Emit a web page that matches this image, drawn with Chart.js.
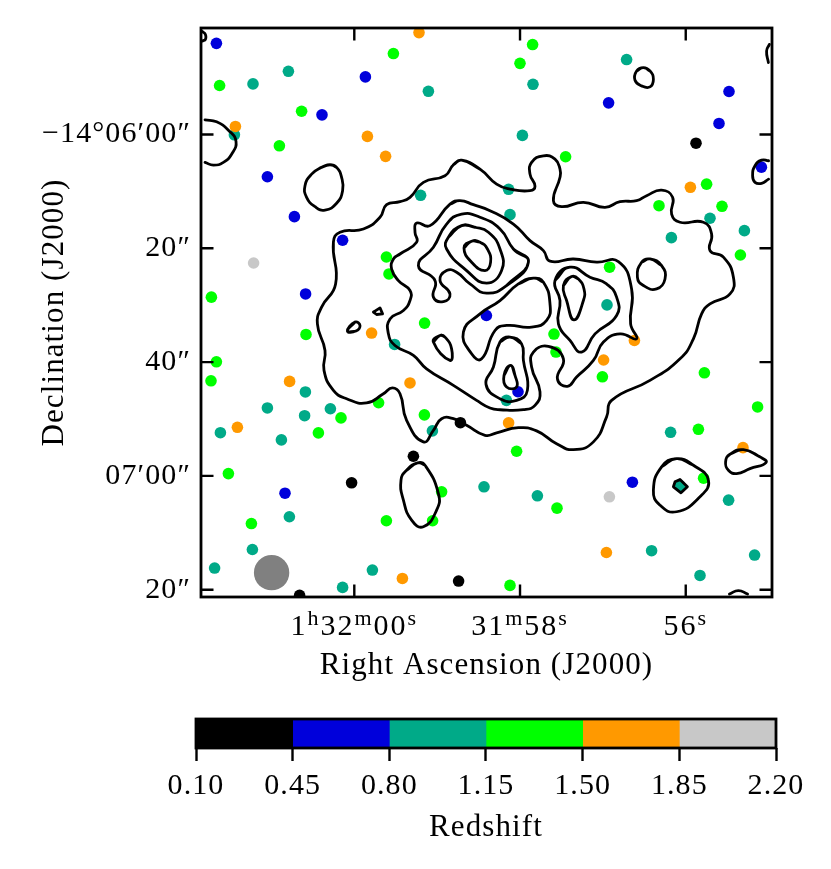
<!DOCTYPE html>
<html><head><meta charset="utf-8">
<style>
html,body{margin:0;padding:0;background:#fff;width:831px;height:869px;overflow:hidden}
canvas{position:absolute;left:0;display:block}
#map{top:0}#bar{top:700px}
</style>
<script src="https://cdn.jsdelivr.net/npm/chart.js@4"></script>
</head><body>
<canvas id="map" width="831" height="700"></canvas>
<canvas id="bar" width="831" height="169"></canvas>
<script>
// Everything below is in map pixels of the image (0.35 arcsec per map pixel, y grows to the south).
const zBlack=[[247.5,57.7],[129.7,197.7],[106.2,214.5],[75.3,227.8],[128.8,277],[49.3,284.2]];
const zBlue=[[7.7,7.7],[82.2,24.5],[60.5,43.5],[33.2,74.5],[46.7,94.5],[70.8,106.3],[52.3,133.2],[142.7,144],[203.8,37.5],[264,31.8],[259,47.8],[280.2,69.7],[158.5,182.2],[215.7,227.5],[42,233]];
const zTeal=[[43.7,21.7],[26,28],[113.7,31.7],[16.7,53.5],[109.8,83.8],[166,28.2],[212.8,15.8],[160.7,53.8],[153.8,80.8],[154.5,93.5],[254.5,95.3],[235.2,105],[271.7,101.5],[203,138.7],[96.8,158.5],[52.2,182.3],[33.2,190.3],[64.7,190.7],[51.8,194.2],[115.7,201.8],[9.7,202.7],[40.2,206.3],[141.5,229.8],[44.2,244.8],[25.7,261.2],[6.8,270.5],[85.7,271.5],[70.8,280.2],[152.7,186.5],[234.8,202.5],[239.5,229.3],[168.2,234.3],[263.8,236.5],[225.3,261.8],[276.8,264],[249.5,274.2]];
const zGreen=[[96.2,12.8],[9.3,28.8],[50.3,41.7],[39.2,59],[92.7,114.7],[94,123.2],[5.2,134.8],[111.8,147.8],[165.8,8.3],[159.5,17.7],[182.3,64.5],[252.8,78.2],[229,89],[260.5,89.3],[269.7,113.7],[204.3,119.8],[52.5,153.5],[7.7,167.2],[5,176.7],[88.8,187.7],[70,195.3],[111.7,193.8],[58.7,202.8],[13.7,223.2],[120.3,232.3],[92.7,246.8],[115.8,246.8],[25.2,248.2],[176.5,153.3],[177.5,162.3],[200.7,174.7],[251.7,172.7],[278.3,189.8],[248.7,201],[157.8,212],[251.3,225.5],[178,240.5],[154.5,279.2]];
const zOrange=[[109,2.3],[17.2,49.3],[83.2,54.3],[92.3,64.3],[244.7,79.8],[85.3,152.8],[44.3,177],[104.5,177.8],[18.2,200],[100.7,275.7],[216.7,156.5],[201.3,166.3],[153.8,197.8],[271,210.2],[202.7,262.7]];
const zGray=[[26.3,117.7],[204.2,234.8]];
const beam=[[35.3,272.8]];

const cOuter=[[130.3,66.2],[126.2,68.5],[122,74],[111.2,77.3],[104.5,84.8],[99.5,87],[92.8,88.5],[89.5,94.8],[81.2,100.7],[69.5,102.3],[66.2,107.3],[67.3,128.2],[60.3,139.8],[58.2,148.2],[62,161.5],[61.5,171.5],[66.2,181.5],[72.8,185.7],[82.8,187.8],[91.2,183.2],[95.7,180.3],[99.5,183.2],[102.8,196.5],[111.2,207.3],[116.2,201.5],[120.3,195.7],[126.2,195.7],[132.8,199],[142,204],[147.8,202.8],[158.7,200.2],[167.8,201.8],[177.8,208.2],[186.2,211.2],[196.2,207.3],[202.8,194.8],[205.3,186.5],[224.5,176.5],[239.5,165.7],[246.2,155.7],[250.3,143.2],[254.5,138.2],[264.5,133.2],[266.2,124.8],[261.2,114.8],[254.5,111.5],[255.3,103.2],[251.2,97.3],[239.5,97.3],[235.3,93.2],[235.8,84.8],[230.3,81.2],[222.8,84],[217.8,86.5],[209.5,87],[202,89.8],[191.2,87.3],[180.3,89.5],[176.2,86.5],[179.5,74.8],[179.5,70.7],[177,65.7],[171.2,64],[165.3,67.3],[164.5,73.2],[167,79.3],[164.5,81.5],[154.5,80.7],[147.8,78.2],[139.5,70.7],[130.3,66.2]];
const cSecond=[[129.5,86.5],[124.5,88.2],[114.5,99],[107.8,97.7],[107,102.3],[107.8,107.3],[99.5,113.2],[96.2,115.7],[95.3,120.7],[98.7,126.5],[104.5,131.5],[104.5,136.5],[101.2,141.5],[94.5,145.7],[93.7,153.2],[97,159],[106.2,164],[112.8,170.7],[126.2,179],[137.8,186.5],[144.5,190.3],[149.5,191.2],[161.2,191.2],[167,189],[169.5,182.3],[165.3,169.8],[166.2,162.3],[173.7,159.5],[181.2,165.7],[178.2,175.7],[183.2,179.5],[187.8,174.8],[196.2,166.5],[201.2,157.3],[209.5,153.2],[217.8,155.7],[214.8,148.2],[215.3,130.7],[208.7,117],[197.8,117.3],[186.2,115.7],[174.5,116.8],[171.2,111.5],[164.5,106.5],[156.2,98.2],[144.5,91.5],[136.2,88.5],[129.5,86.5]];
const cLobeA=[[163.7,117.3],[156.2,110.7],[149.5,100.7],[139.5,94.8],[130.3,93.2],[122.8,98.2],[116.2,109.8],[108.7,119],[117,126.5],[116.2,134.8],[121.2,137],[124.5,133.2],[119.5,126.5],[122.8,121.5],[127.8,122.3],[134.5,128.2],[142.8,132.8],[152.8,129],[163.7,117.3]];
const cLobeB=[[130.3,99],[123.7,104.8],[122.8,110.7],[132.8,121.5],[142.8,127.8],[150.3,121.5],[149.5,110.7],[143.7,102.3],[137,99.8],[130.3,99]];
const cLobeC=[[135.3,106.8],[131.5,110.2],[135.3,117.3],[142,121.5],[144.8,117.3],[143.2,110.7],[139.5,107.3],[135.3,106.8]];
const cCentre=[[166.2,125.3],[171.2,127.3],[174.5,138.2],[172.8,146.5],[165.3,149.8],[152.8,149],[147,151.5],[140.3,165.7],[135.3,163.2],[131.2,152.3],[139.5,143.2],[149.5,136.5],[158.7,128.2],[166.2,125.3]];
const cRightA=[[184.5,119.8],[177,126.5],[179.5,136.5],[178.7,148.2],[184.5,156.5],[190.3,162.3],[197,153.2],[207.8,144],[207.8,134.8],[202.8,128.2],[194.5,124.8],[184.5,119.8]];
const cRightB=[[185.3,124.5],[181.2,129],[182.8,136.5],[186.5,146.2],[191.2,136.5],[191.5,130.7],[188.7,125.7],[185.3,124.5]];
const cLowerA=[[154.5,154.8],[160.3,158.2],[161.2,166.5],[163.2,181.5],[157.8,186.5],[149.5,185.7],[142.5,178.5],[146.2,169.8],[149.5,157.3],[154.5,154.8]];
const cLowerB=[[154.8,169],[151.5,174],[152.8,179.8],[157.8,179.8],[157,174],[154.8,169]];
const cIslandA=[[119.5,154],[116.2,157.3],[124.5,166.5],[125.3,160.7],[122,154.8],[119.5,154]];
const cIslandB=[[86.2,142.3],[89.5,140.2],[90.8,143.2],[87.8,143.5],[86.2,142.3]];
const cIslandC=[[73.2,151.8],[77,147.3],[79.5,149],[77.5,151.8],[73.2,151.8]];
const cEastOval=[[224.5,115.7],[230.3,119],[232,125.7],[227.8,130.7],[221.2,129],[218.2,124.8],[220.3,117.3],[224.5,115.7]];
const cWestRing=[[64.5,68.5],[67.8,69.8],[70.3,74.8],[70.8,81.5],[67.8,87.8],[62,91.2],[57,89.5],[52.8,84.8],[52,79],[55.3,73.2],[60.3,69.8],[64.5,68.5]];
const cWestArc=[[2,46],[7.8,47],[13.7,51.2],[17.5,56.8],[15.3,63.2],[11.2,67.3],[6.2,68.7],[2,67.3]];
const cCornerNW=[[0.7,1.8],[2.2,3.2],[2.2,5.7],[0.8,6.5]];
const cRingNE=[[221.2,19.8],[224.5,21.5],[226.2,25.7],[224.5,29.5],[220.3,29],[217,26.2],[217.8,21.5],[221.2,19.8]];
const cArcNE=[[284.2,8.2],[282.8,11.5],[283.7,17.3]];
const cArcE=[[283.8,66.5],[280.3,66.2],[277,69],[275.8,74],[277,77.3],[280.3,77.8],[283.8,75.7]];
const cSouthOval=[[108.3,217.8],[112,219],[118.7,233.2],[117.8,241.5],[111.2,249.8],[105.3,246.5],[101.2,236.5],[100,226.5],[102.8,221.5],[108.3,217.8]];
const cSERingA=[[237.8,215.7],[246.2,219],[253.7,226.5],[249.5,234.8],[237.8,242.3],[229.5,239],[226.2,231.5],[230.3,219.8],[237.8,215.7]];
const cSERingB=[[239.5,226.2],[243.2,229.8],[240,232.8],[236.2,229.8],[237,227.3],[239.5,226.2]];
const cSEDrop=[[271.2,211.2],[279.5,214.8],[282.5,217.7],[274.5,220.7],[267.8,223.2],[263.7,221.5],[262.3,217.3],[264.5,213.5],[271.2,211.2]];
const cSouthArc=[[264.2,283.5],[268.7,281.8],[273.3,283.5]];

const raTicks=[120,118,116];                 // seconds past 1h31m
const raLabels=[[["1",0],["h",1],["32",0],["m",1],["00",0],["s",1]],[["31",0],["m",1],["58",0],["s",1]],[["56",0],["s",1]]];
const decTicks=[0,20,40,60,80];              // arcsec south of -14d06m00s
const decLabels=["\u221214\u00b006\u203200\u2033","20\u2033","40\u2033","07\u203200\u2033","20\u2033"];
const binEdges=[0.10,0.45,0.80,1.15,1.50,1.85,2.20];
const binColors=["#000000","#0000DB","#00AA88","#00FF00","#FF9900","#C8C8C8"];

const raToMap=ra=>76.65+(120-ra)*41.43;
const decToMap=d=>53.35+d*2.85;
const SERIF='"Liberation Serif",serif';

const xy=d=>d.map(p=>({x:p[0],y:p[1]}));
const isClosed=c=>c[0][0]===c[c.length-1][0]&&c[0][1]===c[c.length-1][1];
const wrap=c=>isClosed(c)?[c[c.length-2],...c,c[1]]:c;  // carry the spline over the seam of a closed contour
const pts=(data,color,order,r)=>({type:'scatter',data:xy(data),backgroundColor:color,borderWidth:0,pointRadius:r,pointHoverRadius:r,showLine:false,order});
const line=(data,tension)=>({type:'scatter',data:xy(data),showLine:true,borderColor:'#000',borderWidth:2.8,pointRadius:0,pointHoverRadius:0,fill:false,tension,order:0,borderJoinStyle:'round',borderCapStyle:'round'});
const smooth=[cOuter,cSecond,cLobeA,cLobeB,cLobeC,cCentre,cRightA,cRightB,cLowerA,cLowerB,cIslandA,cIslandC,cEastOval,cWestRing,cWestArc,cCornerNW,cRingNE,cArcNE,cArcE,cSouthOval,cSERingA,cSEDrop,cSouthArc];
const sharp=[cIslandB,cSERingB];

const spacing={id:'spacing',beforeDraw(ch){ch.ctx.letterSpacing='1.1px';}};

const frame={id:'frame',afterDatasetsDraw(ch){
  const {ctx,chartArea:a,scales:{x,y}}=ch;
  ctx.save();ctx.strokeStyle='#000';ctx.lineWidth=2.4;ctx.beginPath();
  raTicks.forEach(t=>{const p=x.getPixelForValue(raToMap(t));ctx.moveTo(p,a.top);ctx.lineTo(p,a.top+12.5);ctx.moveTo(p,a.bottom);ctx.lineTo(p,a.bottom-12.5);});
  decTicks.forEach(t=>{const p=y.getPixelForValue(decToMap(t));ctx.moveTo(a.left,p);ctx.lineTo(a.left+12.5,p);ctx.moveTo(a.right,p);ctx.lineTo(a.right-12.5,p);});
  ctx.stroke();ctx.lineWidth=2.8;ctx.strokeRect(a.left,a.top,a.right-a.left,a.bottom-a.top);
  // RA tick labels with raised unit letters
  ctx.fillStyle='#000';ctx.textBaseline='alphabetic';ctx.textAlign='left';ctx.letterSpacing='2px';
  const big='30px '+SERIF,small='22px '+SERIF;
  raTicks.forEach((t,i)=>{
    const parts=raLabels[i];let w=0;
    parts.forEach(q=>{ctx.font=q[1]?small:big;w+=ctx.measureText(q[0]).width;});
    let cx=x.getPixelForValue(raToMap(t))-w/2;
    parts.forEach(q=>{ctx.font=q[1]?small:big;ctx.fillText(q[0],cx,q[1]?625:635);cx+=ctx.measureText(q[0]).width;});
  });
  ctx.restore();
}};

new Chart(document.getElementById('map'),{
  type:'scatter',
  data:{datasets:[
    ...smooth.map(c=>line(wrap(c),0.5)),...sharp.map(c=>line(c,0)),
    pts(zGray,binColors[5],1,5.8),pts(zOrange,binColors[4],2,5.8),pts(zGreen,binColors[3],3,5.8),
    pts(zTeal,binColors[2],4,5.8),pts(zBlue,binColors[1],5,5.8),pts(zBlack,binColors[0],6,5.8),
    pts(beam,'#808080',7,17.7)
  ]},
  options:{responsive:false,animation:false,devicePixelRatio:1,events:[],
    layout:{padding:{top:27,right:59,left:0,bottom:0}},
    plugins:{legend:{display:false},tooltip:{enabled:false}},
    scales:{
      x:{type:'linear',min:0,max:285.5,grid:{display:false},border:{display:false},
        ticks:{display:false},
        afterFit(s){s.height=103;},
        title:{display:true,text:'Right Ascension (J2000)',color:'#000',font:{family:SERIF,size:31},padding:{top:0,bottom:16}}},
      y:{type:'linear',reverse:true,min:0,max:285,grid:{display:false,drawTicks:false},border:{display:false},
        afterBuildTicks(s){s.ticks=decTicks.map(d=>({value:decToMap(d)}));},
        ticks:{color:'#000',font:{family:SERIF,size:30},padding:10,autoSkip:false,maxRotation:0,
          callback:(v,i)=>decLabels[i]},
        afterFit(s){s.width=201;},
        title:{display:true,text:'Declination (J2000)',color:'#000',font:{family:SERIF,size:31},padding:{top:36,bottom:0}}}
    }},
  plugins:[spacing,frame]
});

const barFrame={id:'barFrame',afterDatasetsDraw(ch){
  const {ctx,chartArea:a}=ch;ctx.save();ctx.strokeStyle='#000';ctx.lineWidth=2.8;
  ctx.strokeRect(a.left,a.top,a.right-a.left,a.bottom-a.top);ctx.restore();
}};
new Chart(document.getElementById('bar'),{
  type:'bar',
  data:{labels:['z'],datasets:binColors.map((c,i)=>({data:[[binEdges[i],binEdges[i+1]]],backgroundColor:c,borderWidth:0,barPercentage:1,categoryPercentage:1,grouped:false}))},
  options:{indexAxis:'y',responsive:false,animation:false,devicePixelRatio:1,events:[],
    layout:{padding:{top:19,left:196,right:55,bottom:0}},
    plugins:{legend:{display:false},tooltip:{enabled:false}},
    scales:{
      y:{display:false},
      x:{type:'linear',min:0.10,max:2.20,border:{display:false},
        grid:{drawOnChartArea:false,drawTicks:true,tickLength:13,tickColor:'#000',tickWidth:2.4},
        afterBuildTicks(s){s.ticks=binEdges.map(v=>({value:v}));},
        ticks:{color:'#000',font:{family:SERIF,size:30},padding:7,autoSkip:false,maxRotation:0,callback:v=>v.toFixed(2)},
        afterFit(s){s.height=121;},
        title:{display:true,text:'Redshift',color:'#000',font:{family:SERIF,size:31},padding:{top:0,bottom:23}}}
    }},
  plugins:[spacing,barFrame]
});
</script>
</body></html>
